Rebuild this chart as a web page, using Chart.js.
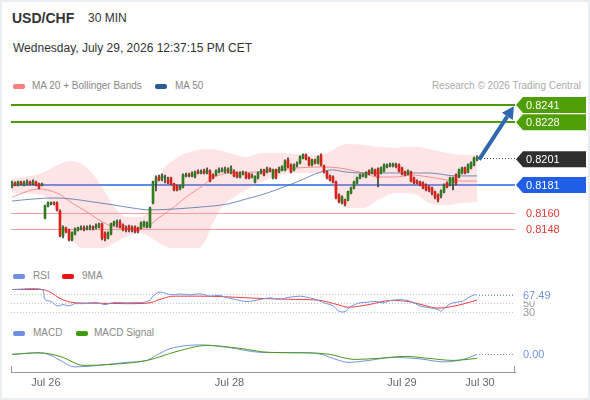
<!DOCTYPE html>
<html>
<head>
<meta charset="utf-8">
<title>USD/CHF 30 MIN</title>
<script src="https://cdn.jsdelivr.net/npm/chart.js@4.4.1/dist/chart.umd.min.js"></script>
<style>
  html, body { margin: 0; padding: 0; background: #fff; }
  #frame {
    position: relative; width: 590px; height: 400px; overflow: hidden;
    box-shadow: inset 0 0 0 2px #e9eef3;
    font-family: "Liberation Sans", Arial, sans-serif;
  }
  .txt { position: absolute; white-space: nowrap; line-height: 1; }
  .sym { left: 12px; top: 11px; font-size: 14px; font-weight: bold; color: #333; }
  .tf { left: 88px; top: 12px; font-size: 12px; color: #333; }
  .date { left: 13px; top: 42px; font-size: 12px; color: #333; }
  .lg { font-size: 10px; color: #888; }
  .sw { position: absolute; width: 12px; height: 5px; border-radius: 2px; }
  canvas { position: absolute; left: 0; }
</style>
</head>
<body>
<div id="frame">
  <div class="txt sym">USD/CHF</div>
  <div class="txt tf">30 MIN</div>
  <div class="txt date">Wednesday, July 29, 2026 12:37:15 PM CET</div>

  <span class="sw" style="left:13px;top:84px;background:#f77f7f"></span>
  <div class="txt lg" style="left:32px;top:81px">MA 20 + Bollinger Bands</div>
  <span class="sw" style="left:155px;top:84px;background:#2d5b98"></span>
  <div class="txt lg" style="left:175px;top:81px">MA 50</div>
  <div class="txt lg" style="right:9px;top:81px;color:#aaa">Research © 2026 Trading Central</div>

  <span class="sw" style="left:13px;top:274px;background:#6f8fe0"></span>
  <div class="txt lg" style="left:33px;top:271px">RSI</div>
  <span class="sw" style="left:62px;top:274px;background:#e81414"></span>
  <div class="txt lg" style="left:82px;top:271px">9MA</div>

  <span class="sw" style="left:13px;top:331px;background:#6f8fe0"></span>
  <div class="txt lg" style="left:33px;top:328px">MACD</div>
  <span class="sw" style="left:76px;top:331px;background:#3d9b0c"></span>
  <div class="txt lg" style="left:94px;top:328px">MACD Signal</div>

  <canvas id="main" width="590" height="164" style="top:92px"></canvas>
  <canvas id="rsi" width="590" height="40" style="top:282px"></canvas>
  <canvas id="macd" width="590" height="64" style="top:336px"></canvas>
</div>
<script>
// 30 min candles, one per slot, oldest first
const opens = [
  0.81803,0.81825,0.81810,0.81833,0.81810,0.81818,0.81833,0.81818,0.81833,0.81818,
  0.81810,0.81563,0.81653,0.81668,0.81675,0.81675,0.81615,0.81428,0.81488,0.81473,
  0.81398,0.81443,0.81473,0.81480,0.81488,0.81480,0.81488,0.81495,0.81488,0.81503,
  0.81518,0.81450,0.81413,0.81443,0.81510,0.81525,0.81533,0.81510,0.81488,0.81503,
  0.81488,0.81495,0.81488,0.81488,0.81503,0.81495,0.81495,0.81675,0.81825,0.81870,
  0.81855,0.81863,0.81848,0.81863,0.81818,0.81803,0.81780,0.81795,0.81878,0.81885,
  0.81878,0.81870,0.81908,0.81900,0.81915,0.81900,0.81915,0.81885,0.81885,0.81908,
  0.81915,0.81908,0.81923,0.81900,0.81915,0.81900,0.81870,0.81893,0.81900,0.81893,
  0.81870,0.81833,0.81863,0.81900,0.81923,0.81908,0.81930,0.81863,0.81923,0.81908,
  0.81923,0.81923,0.81998,0.81960,0.81923,0.81960,0.81975,0.82013,0.82035,0.82013,
  0.81960,0.81990,0.81975,0.82035,0.81953,0.81908,0.81878,0.81870,0.81833,0.81735,
  0.81683,0.81698,0.81698,0.81750,0.81788,0.81825,0.81863,0.81878,0.81870,0.81915,
  0.81900,0.81923,0.81930,0.81900,0.81915,0.81945,0.81953,0.81953,0.81960,0.81960,
  0.81938,0.81908,0.81893,0.81908,0.81863,0.81840,0.81833,0.81825,0.81810,0.81795,
  0.81788,0.81758,0.81735,0.81728,0.81758,0.81825,0.81810,0.81825,0.81885,0.81870,
  0.81900,0.81938,0.81908,0.81938,0.81960,0.81998
];
const highs = [
  0.81840,0.81833,0.81840,0.81840,0.81840,0.81848,0.81840,0.81848,0.81840,0.81825,
  0.81825,0.81660,0.81683,0.81683,0.81683,0.81683,0.81623,0.81503,0.81495,0.81480,
  0.81458,0.81488,0.81495,0.81503,0.81503,0.81503,0.81510,0.81503,0.81518,0.81525,
  0.81525,0.81458,0.81458,0.81525,0.81540,0.81548,0.81548,0.81518,0.81503,0.81510,
  0.81503,0.81503,0.81495,0.81533,0.81540,0.81533,0.81645,0.81840,0.81878,0.81885,
  0.81893,0.81885,0.81870,0.81870,0.81825,0.81810,0.81810,0.81893,0.81900,0.81900,
  0.81908,0.81915,0.81923,0.81923,0.81930,0.81938,0.81923,0.81893,0.81923,0.81938,
  0.81938,0.81945,0.81938,0.81953,0.81923,0.81908,0.81908,0.81915,0.81908,0.81900,
  0.81893,0.81878,0.81908,0.81930,0.81930,0.81945,0.81938,0.81930,0.81930,0.81945,
  0.81953,0.81998,0.82013,0.81968,0.81968,0.81983,0.82028,0.82043,0.82043,0.82020,
  0.82005,0.82005,0.82028,0.82043,0.81960,0.81915,0.81885,0.81878,0.81840,0.81743,
  0.81728,0.81705,0.81765,0.81795,0.81840,0.81870,0.81893,0.81893,0.81908,0.81923,
  0.81938,0.81930,0.81938,0.81945,0.81968,0.81968,0.81975,0.81975,0.81975,0.81968,
  0.81945,0.81915,0.81923,0.81915,0.81870,0.81848,0.81840,0.81833,0.81818,0.81803,
  0.81795,0.81765,0.81743,0.81773,0.81818,0.81833,0.81870,0.81870,0.81893,0.81930,
  0.81945,0.81945,0.81968,0.81983,0.82020,0.82028
];
const lows = [
  0.81788,0.81803,0.81803,0.81810,0.81803,0.81810,0.81810,0.81810,0.81803,0.81780,
  0.81803,0.81555,0.81645,0.81660,0.81660,0.81615,0.81420,0.81413,0.81450,0.81390,
  0.81390,0.81435,0.81465,0.81473,0.81465,0.81473,0.81473,0.81473,0.81480,0.81488,
  0.81398,0.81390,0.81405,0.81435,0.81503,0.81495,0.81488,0.81465,0.81458,0.81458,
  0.81458,0.81450,0.81450,0.81480,0.81495,0.81488,0.81488,0.81668,0.81765,0.81840,
  0.81840,0.81825,0.81818,0.81810,0.81765,0.81765,0.81773,0.81788,0.81870,0.81870,
  0.81870,0.81863,0.81893,0.81893,0.81893,0.81893,0.81833,0.81855,0.81878,0.81900,
  0.81908,0.81900,0.81900,0.81893,0.81870,0.81863,0.81863,0.81885,0.81855,0.81855,
  0.81863,0.81825,0.81855,0.81893,0.81878,0.81900,0.81908,0.81855,0.81855,0.81900,
  0.81915,0.81915,0.81938,0.81900,0.81915,0.81945,0.81968,0.82005,0.81998,0.81953,
  0.81953,0.81968,0.81968,0.81953,0.81900,0.81855,0.81840,0.81825,0.81705,0.81675,
  0.81668,0.81653,0.81690,0.81743,0.81780,0.81818,0.81855,0.81870,0.81863,0.81885,
  0.81893,0.81878,0.81795,0.81893,0.81908,0.81938,0.81945,0.81945,0.81938,0.81908,
  0.81885,0.81878,0.81885,0.81833,0.81818,0.81818,0.81803,0.81780,0.81765,0.81758,
  0.81735,0.81705,0.81683,0.81713,0.81750,0.81788,0.81803,0.81773,0.81810,0.81863,
  0.81893,0.81893,0.81900,0.81930,0.81953,0.81990
];
const closes = [
  0.81825,0.81810,0.81833,0.81818,0.81825,0.81833,0.81818,0.81833,0.81810,0.81788,
  0.81818,0.81653,0.81675,0.81675,0.81668,0.81623,0.81428,0.81495,0.81458,0.81398,
  0.81450,0.81480,0.81488,0.81488,0.81480,0.81488,0.81495,0.81488,0.81503,0.81510,
  0.81413,0.81405,0.81450,0.81518,0.81533,0.81533,0.81495,0.81473,0.81473,0.81473,
  0.81480,0.81458,0.81465,0.81525,0.81533,0.81525,0.81638,0.81833,0.81863,0.81848,
  0.81878,0.81870,0.81825,0.81818,0.81773,0.81773,0.81803,0.81885,0.81885,0.81878,
  0.81893,0.81908,0.81900,0.81908,0.81900,0.81923,0.81840,0.81863,0.81915,0.81923,
  0.81923,0.81930,0.81915,0.81938,0.81878,0.81870,0.81893,0.81900,0.81863,0.81863,
  0.81878,0.81870,0.81900,0.81915,0.81885,0.81930,0.81915,0.81923,0.81863,0.81930,
  0.81945,0.81990,0.81945,0.81908,0.81960,0.81968,0.82020,0.82035,0.82005,0.81960,
  0.81998,0.81983,0.82020,0.81960,0.81908,0.81863,0.81848,0.81833,0.81713,0.81683,
  0.81720,0.81668,0.81758,0.81788,0.81833,0.81863,0.81885,0.81885,0.81900,0.81893,
  0.81930,0.81885,0.81863,0.81938,0.81960,0.81960,0.81960,0.81968,0.81953,0.81915,
  0.81893,0.81885,0.81915,0.81840,0.81825,0.81825,0.81810,0.81788,0.81773,0.81773,
  0.81750,0.81720,0.81698,0.81765,0.81810,0.81795,0.81863,0.81863,0.81825,0.81923,
  0.81938,0.81900,0.81960,0.81975,0.82013,0.82010
];

// bollinger band (20) and moving averages, read at a few candle indexes
const bandIdx = [0,10,16,20,25,29,34,38,43,46,49,55,60,64,67,70,74,78,83,95,102,106,109,112,117,122,128,135,139,145,150,155];
const bandUpper = [0.81855,0.81900,0.81970,0.81990,0.81940,0.81830,0.81650,0.81570,0.81570,0.81640,
  0.81870,0.82015,0.82062,0.82078,0.82078,0.82065,0.82040,0.82020,0.82050,0.82043,
  0.82035,0.82060,0.82100,0.82118,0.82110,0.82095,0.82090,0.82095,0.82080,0.82050,0.82035,0.82035];
const bandLower = [0.81750,0.81735,0.81570,0.81398,0.81323,0.81323,0.81375,0.81420,0.81450,0.81420,
  0.81375,0.81323,0.81323,0.81375,0.81525,0.81645,0.81720,0.81773,0.81833,0.81900,
  0.81900,0.81825,0.81675,0.81638,0.81638,0.81698,0.81750,0.81735,0.81675,0.81660,0.81675,0.81683];
const ma20Idx = [0,9,15,20,25,29,33,36,40,45,48,54,58,63,67,72,83,95,103,109,117,122,128,133,139,145,150,155];
const ma20 = [0.81720,0.81780,0.81750,0.81675,0.81608,0.81548,0.81503,0.81488,0.81480,0.81495,
  0.81548,0.81645,0.81720,0.81795,0.81863,0.81900,0.81908,0.81938,0.81945,0.81938,
  0.81900,0.81870,0.81870,0.81885,0.81870,0.81848,0.81840,0.81840];
const ma50Idx = [0,7,14,20,27,34,40,46,54,63,72,78,83,95,103,107,111,117,128,139,148,155];
const ma50 = [0.81690,0.81705,0.81713,0.81705,0.81683,0.81660,0.81638,0.81623,0.81630,0.81645,
  0.81668,0.81705,0.81735,0.81833,0.81908,0.81923,0.81908,0.81900,0.81900,0.81900,0.81878,0.81878];

// key levels on the right
const levels = [0.8241, 0.8228, 0.8181, 0.8160, 0.8148];
const levelKinds = ['target', 'target', 'pivot', 'support', 'support'];
const lastPrice = 0.8201;
const arrowFrom = [155.7, 0.8200];
const arrowTo = [167.3, 0.8240];

// RSI (14) and its 9MA
const rsiIdx = [0,10,11,13,15,17,19,21,24,28,31,34,38,41,44,46,47,49,51,53,56,59,63,66,69,71,74,78,81,83,
  86,89,92,96,98,101,104,107,109,111,113,116,118,121,124,126,129,132,134,136,139,142,143,145,147,150,152,154,155];
const rsi = [80,80,57,53,43,46,43,48,48,51,46,51,50,51,51,56,65,74,72,68,70,68,70,65,67,63,58,53,55,58,
  61,58,62,65,63,58,50,43,31,30,42,50,51,53,50,55,57,55,50,43,39,35,31,43,50,53,61,68,67.49];
const rsiMaIdx = [0,10,13,16,21,29,38,46,49,54,63,73,82,92,102,109,112,119,126,132,137,142,147,155];
const rsiMa = [80,80,73,60,50,49,48,50,57,65,65,63,60,58,56,45,40,46,55,53,45,38,42,56];
const rsiGuides = [70, 50, 30];

// MACD and signal
const macdIdx = [0,9,13,16,21,29,38,45,48,53,63,72,83,96,102,109,112,119,127,136,144,151,155];
const macd = [0,0.000016,-0.00001,-0.00006,-0.000125,-0.00011,-0.00008,-0.00006,-0.00001,0.00006,0.000095,0.00007,
  0.00002,0.000016,0.000007,-0.00006,-0.00008,-0.00006,-0.00003,-0.000045,-0.000075,-0.000045,0];
const signalIdx = [0,9,16,24,33,45,55,65,76,86,99,106,114,122,131,139,147,155];
const signal = [0,0.000016,-0.00002,-0.00011,-0.0001,-0.00006,0.00003,0.00009,0.00006,0.00002,0.000016,0,
  -0.00005,-0.00004,-0.00002,-0.00004,-0.00006,-0.00004];

const dayTicks = [11.3, 72.5, 130, 156];
const dayLabels = ['Jul 26', 'Jul 28', 'Jul 29', 'Jul 30'];

const FONT = '"Liberation Sans", Arial, sans-serif';
Chart.defaults.font.family = FONT;

const X_MIN = -1 / 3;
const X_MAX = 168 - 1 / 3;
const PAD_X = { left: 11, right: 75 };
const UP = '#2f7d1f';
const DOWN = '#dc2219';
const LINE_BLUE = '#7393e2';

const pts = (idx, vals) => idx.map((x, i) => ({ x, y: vals[i] }));
const lastLinePoint = (idx, vals) => [idx[idx.length - 1], vals[vals.length - 1]];

const baseOptions = {
  responsive: false,
  animation: false,
  events: [],
  plugins: { legend: { display: false }, tooltip: { enabled: false } },
};

function dotted(ctx, x1, x2, y, color) {
  ctx.save();
  ctx.strokeStyle = color;
  ctx.lineWidth = 1;
  ctx.setLineDash([1, 2]);
  ctx.beginPath();
  ctx.moveTo(x1, y);
  ctx.lineTo(x2, y);
  ctx.stroke();
  ctx.restore();
}

function tag(ctx, x, y, text, color) {
  const h = 16;
  ctx.save();
  ctx.beginPath();
  ctx.moveTo(x, y);
  ctx.lineTo(x + 7, y - h / 2);
  ctx.lineTo(586, y - h / 2);
  ctx.lineTo(586, y + h / 2);
  ctx.lineTo(x + 7, y + h / 2);
  ctx.closePath();
  ctx.fillStyle = color;
  ctx.fill();
  ctx.fillStyle = '#fff';
  ctx.font = '11px ' + FONT;
  ctx.textBaseline = 'middle';
  ctx.fillText(text, x + 10, y + 0.5);
  ctx.restore();
}

const levelPlugin = {
  id: 'levels',
  beforeDatasetsDraw(chart) {
    const { ctx, chartArea: a, scales: { y } } = chart;
    ctx.save();
    levels.forEach((v, i) => {
      const kind = levelKinds[i];
      let py = Math.round(y.getPixelForValue(v));
      ctx.beginPath();
      if (kind === 'target') {
        ctx.strokeStyle = '#4b9a06';
        ctx.lineWidth = 2;
      } else if (kind === 'pivot') {
        ctx.strokeStyle = '#2a66e6';
        ctx.lineWidth = 1.5;
      } else {
        ctx.strokeStyle = '#f3a2a2';
        ctx.lineWidth = 1;
        py += 0.5;
      }
      ctx.moveTo(a.left, py);
      ctx.lineTo(a.right, py);
      ctx.stroke();
    });
    ctx.restore();
  },
  afterDatasetsDraw(chart) {
    const { ctx, chartArea: a, scales: { x, y } } = chart;

    // last price
    const lastX = x.getPixelForValue(closes.length - 1);
    const lastY = Math.round(y.getPixelForValue(lastPrice)) + 0.5;
    dotted(ctx, lastX + 4, a.right, lastY, '#444');

    // forecast arrow
    const x0 = x.getPixelForValue(arrowFrom[0]), y0 = y.getPixelForValue(arrowFrom[1]);
    const x1 = x.getPixelForValue(arrowTo[0]), y1 = y.getPixelForValue(arrowTo[1]);
    const ang = Math.atan2(y1 - y0, x1 - x0);
    const headLen = 12, headW = 6.5;
    const bx = x1 - Math.cos(ang) * headLen, by = y1 - Math.sin(ang) * headLen;
    ctx.save();
    ctx.strokeStyle = '#2f68b0';
    ctx.fillStyle = '#2f68b0';
    ctx.lineWidth = 4;
    ctx.beginPath();
    ctx.moveTo(x0, y0);
    ctx.lineTo(bx, by);
    ctx.stroke();
    ctx.beginPath();
    ctx.moveTo(x1, y1);
    ctx.lineTo(bx + Math.sin(ang) * headW, by - Math.cos(ang) * headW);
    ctx.lineTo(bx - Math.sin(ang) * headW, by + Math.cos(ang) * headW);
    ctx.closePath();
    ctx.fill();
    ctx.restore();

    // right hand labels
    const tx = a.right + 1;
    levels.forEach((v, i) => {
      const py = y.getPixelForValue(v);
      const kind = levelKinds[i];
      if (kind === 'target') tag(ctx, tx, py, v.toFixed(4), '#4f9e06');
      else if (kind === 'pivot') tag(ctx, tx, py, v.toFixed(4), '#1f5fe6');
      else {
        ctx.save();
        ctx.fillStyle = '#e83a36';
        ctx.font = '11px ' + FONT;
        ctx.textBaseline = 'middle';
        ctx.fillText(v.toFixed(4), tx + 10, py + 0.5);
        ctx.restore();
      }
    });
    tag(ctx, tx, y.getPixelForValue(lastPrice) + 1, lastPrice.toFixed(4), '#2f2f2f');
  }
};

new Chart(document.getElementById('main'), {
  type: 'bar',
  data: {
    datasets: [
      {
        type: 'line', data: pts(bandIdx, bandUpper), fill: '+1',
        backgroundColor: 'rgba(250,120,120,0.2)', borderColor: 'transparent', borderWidth: 0,
        pointRadius: 0, cubicInterpolationMode: 'monotone', order: 6
      },
      {
        type: 'line', data: pts(bandIdx, bandLower), fill: false,
        borderColor: 'transparent', borderWidth: 0, pointRadius: 0,
        cubicInterpolationMode: 'monotone', order: 6
      },
      {
        type: 'line', data: pts(ma50Idx, ma50), borderColor: 'rgba(70,105,165,0.75)',
        borderWidth: 1, pointRadius: 0, cubicInterpolationMode: 'monotone', order: 4
      },
      {
        type: 'line', data: pts(ma20Idx, ma20), borderColor: 'rgba(240,125,125,0.8)',
        borderWidth: 1, pointRadius: 0, cubicInterpolationMode: 'monotone', order: 4
      },
      {
        data: opens.map((o, i) => ({ x: i, y: [lows[i], highs[i]] })),
        backgroundColor: '#3c3c3c', barThickness: 1, grouped: false, order: 2
      },
      {
        data: opens.map((o, i) => ({ x: i, y: [o, closes[i]] })),
        backgroundColor: (c) => closes[c.dataIndex] >= opens[c.dataIndex] ? UP : DOWN,
        barThickness: 2, minBarLength: 1, grouped: false, order: 1
      }
    ]
  },
  options: {
    ...baseOptions,
    layout: { padding: { ...PAD_X, top: 6, bottom: 8 } },
    scales: {
      x: { type: 'linear', display: false, min: X_MIN, max: X_MAX, offset: false },
      y: { display: false, min: 0.813375, max: 0.824625 }
    }
  },
  plugins: [levelPlugin]
});

const rsiPlugin = {
  id: 'rsiGuides',
  beforeDatasetsDraw(chart) {
    const { ctx, chartArea: a, scales: { y } } = chart;
    rsiGuides.forEach(v => dotted(ctx, a.left, a.right, Math.round(y.getPixelForValue(v)) + 0.5, '#c4c4c4'));
  },
  afterDatasetsDraw(chart) {
    const { ctx, chartArea: a, scales: { x, y } } = chart;
    const [li, lv] = lastLinePoint(rsiIdx, rsi);
    const py = y.getPixelForValue(lv);
    dotted(ctx, x.getPixelForValue(li) + 2, a.right, Math.round(py) + 0.5, LINE_BLUE);
    ctx.save();
    ctx.font = '11px ' + FONT;
    ctx.textBaseline = 'middle';
    ctx.fillStyle = '#999';
    rsiGuides.forEach(v => ctx.fillText(String(v), a.right + 8, y.getPixelForValue(v) + 1));
    ctx.fillStyle = '#fff';
    ctx.fillRect(a.right + 6, py - 6, 34, 12);
    ctx.fillStyle = LINE_BLUE;
    ctx.fillText(lv.toFixed(2), a.right + 8, py + 0.5);
    ctx.restore();
  }
};

new Chart(document.getElementById('rsi'), {
  type: 'line',
  data: {
    datasets: [
      { data: pts(rsiIdx, rsi), borderColor: LINE_BLUE, borderWidth: 1, pointRadius: 0, tension: 0.3 },
      { data: pts(rsiMaIdx, rsiMa), borderColor: '#ee3b3b', borderWidth: 1, pointRadius: 0, cubicInterpolationMode: 'monotone' }
    ]
  },
  options: {
    ...baseOptions,
    layout: { padding: { ...PAD_X, top: 4, bottom: 6 } },
    scales: {
      x: { type: 'linear', display: false, min: X_MIN, max: X_MAX, offset: false },
      y: { display: false, min: 20.2, max: 87.9 }
    }
  },
  plugins: [rsiPlugin]
});

const macdPlugin = {
  id: 'macdZero',
  afterDatasetsDraw(chart) {
    const { ctx, chartArea: a, scales: { x, y } } = chart;
    const [li, lv] = lastLinePoint(macdIdx, macd);
    const py = y.getPixelForValue(lv);
    dotted(ctx, x.getPixelForValue(li) + 2, a.right, Math.round(py) + 0.5, LINE_BLUE);
    ctx.save();
    ctx.font = '11px ' + FONT;
    ctx.textBaseline = 'middle';
    ctx.fillStyle = LINE_BLUE;
    ctx.fillText(Math.abs(lv).toFixed(2), a.right + 8, py + 0.5);
    // end ticks of the time axis
    ctx.strokeStyle = '#999';
    ctx.lineWidth = 1;
    ctx.beginPath();
    [a.left + 0.5, a.right - 0.5].forEach(px => {
      ctx.moveTo(px, a.bottom - 6);
      ctx.lineTo(px, a.bottom);
    });
    ctx.stroke();
    ctx.restore();
  }
};

new Chart(document.getElementById('macd'), {
  type: 'line',
  data: {
    datasets: [
      { data: pts(signalIdx, signal), borderColor: '#4a9b1c', borderWidth: 1, pointRadius: 0, cubicInterpolationMode: 'monotone' },
      { data: pts(macdIdx, macd), borderColor: LINE_BLUE, borderWidth: 1, pointRadius: 0, cubicInterpolationMode: 'monotone' }
    ]
  },
  options: {
    ...baseOptions,
    layout: { padding: { ...PAD_X, top: 2, bottom: 0 } },
    scales: {
      x: {
        type: 'linear', min: X_MIN, max: X_MAX, offset: false,
        afterBuildTicks: (s) => { s.ticks = dayTicks.map(v => ({ value: v })); },
        afterFit: (s) => { s.height = 28; },
        grid: { display: false, drawTicks: false },
        border: { display: true, color: '#999', width: 1 },
        ticks: {
          autoSkip: false, maxRotation: 0, padding: 4, color: '#666',
          font: { size: 11 },
          callback: (v, i) => dayLabels[i]
        }
      },
      y: { display: false, min: -0.000176, max: 0.000164 }
    }
  },
  plugins: [macdPlugin]
});
</script>
</body>
</html>
